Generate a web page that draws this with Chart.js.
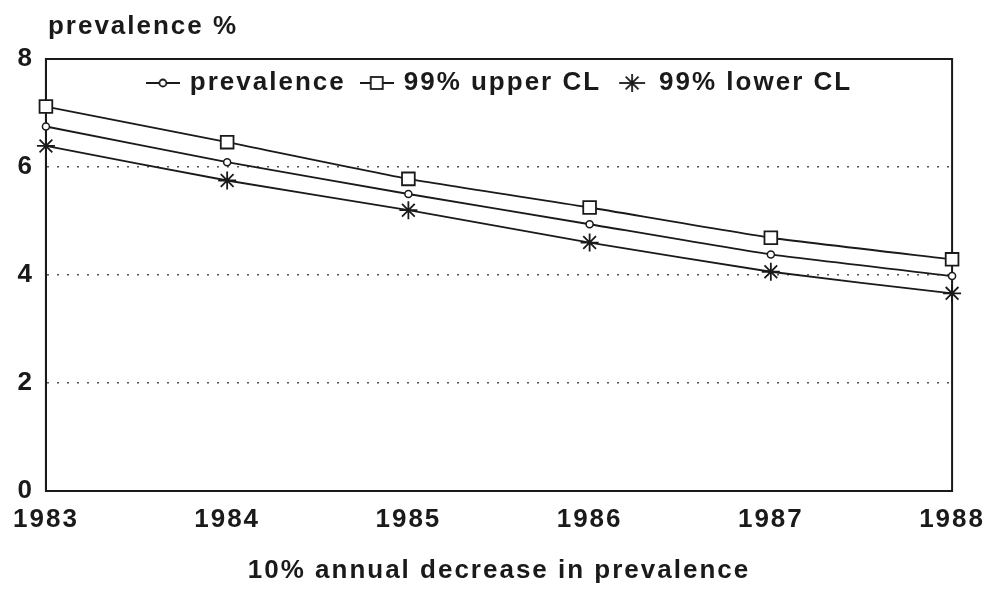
<!DOCTYPE html>
<html>
<head>
<meta charset="utf-8">
<script src="https://cdn.jsdelivr.net/npm/chart.js@4.4.1/dist/chart.umd.min.js"></script>
<style>
    html, body { margin: 0; padding: 0; background: #fff; }
    #wrap { width: 998px; height: 589px; }
</style>
</head>
<body>
<div id="wrap"><canvas id="prevChart" width="998" height="589"></canvas></div>
<script>
// values
const years = ['1983', '1984', '1985', '1986', '1987', '1988'];
const prevalence = [6.75, 6.09, 5.50, 4.94, 4.38, 3.98];
const upperCL = [7.12, 6.46, 5.78, 5.25, 4.69, 4.29];
const lowerCL = [6.39, 5.75, 5.20, 4.60, 4.06, 3.66];
const yTicks = [0, 2, 4, 6, 8];

const FONT = '"Liberation Sans", Arial, Helvetica, sans-serif';
const INK = '#1a1a1a';

// little legend icons: line with the marker in the middle
function makeIcon(kind) {
    const c = document.createElement('canvas');
    c.width = 34;
    c.height = 22;
    const g = c.getContext('2d');
    g.strokeStyle = INK;
    g.lineWidth = 1.8;
    g.beginPath();
    if (kind === 'star') {
        g.moveTo(4, 11); g.lineTo(30, 11);
    } else {
        g.moveTo(0, 11); g.lineTo(34, 11);
    }
    g.stroke();
    g.fillStyle = '#fff';
    if (kind === 'circle') {
        g.beginPath();
        g.arc(17, 11, 3.5, 0, Math.PI * 2);
        g.fill(); g.stroke();
    } else if (kind === 'rect') {
        g.fillRect(11, 5, 12, 12);
        g.strokeRect(11, 5, 12, 12);
    } else {
        g.beginPath();
        g.moveTo(17, 2); g.lineTo(17, 20);
        g.moveTo(10.6, 4.6); g.lineTo(23.4, 17.4);
        g.moveTo(23.4, 4.6); g.lineTo(10.6, 17.4);
        g.stroke();
    }
    return c;
}
const legendIcons = [makeIcon('circle'), makeIcon('rect'), makeIcon('star')];

const spacing = {
    id: 'spacing',
    beforeLayout(chart) { chart.ctx.letterSpacing = '2px'; },
    beforeDraw(chart) { chart.ctx.letterSpacing = '2px'; }
};

// frame round the plot, the y title on top and the legend inside the frame
const frameAndTitle = {
    id: 'frameAndTitle',
    beforeDatasetsDraw(chart) {
        const { ctx, chartArea: a } = chart;
        ctx.save();
        ctx.strokeStyle = INK;
        ctx.lineWidth = 2;
        ctx.strokeRect(a.left, a.top, a.right - a.left, a.bottom - a.top);
        ctx.restore();
    },
    afterDraw(chart) {
        const { ctx, chartArea: a } = chart;
        ctx.save();
        ctx.letterSpacing = '2px';
        ctx.font = 'bold 26px ' + FONT;
        ctx.fillStyle = INK;
        ctx.textAlign = 'left';
        ctx.textBaseline = 'alphabetic';
        ctx.fillText('prevalence %', a.left + 2, 34);

        const labels = chart.data.datasets.map(ds => ds.label);
        const iconGap = 10, itemGap = 14;
        const widths = labels.map(t => ctx.measureText(t).width);
        const total = widths.reduce((s, w) => s + w + 34 + iconGap, 0) + itemGap * (labels.length - 1);
        let x = (a.left + a.right) / 2 - total / 2;
        const y = a.top + 24;
        ctx.textBaseline = 'middle';
        labels.forEach((t, i) => {
            ctx.drawImage(legendIcons[i], x, y - 11);
            x += 34 + iconGap;
            ctx.fillText(t, x, y);
            x += widths[i] + itemGap;
        });
        ctx.restore();
    }
};

const lineStyle = {
    borderColor: INK,
    borderWidth: 1.8,
    pointBorderColor: INK,
    pointBackgroundColor: '#fff',
    pointBorderWidth: 1.8,
    tension: 0.15,
    clip: false
};

new Chart(document.getElementById('prevChart'), {
    type: 'line',
    data: {
        labels: years,
        datasets: [
            { ...lineStyle, label: 'prevalence', data: prevalence, pointStyle: 'circle', pointRadius: 3.5, pointBorderWidth: 1.5 },
            { ...lineStyle, label: '99% upper CL', data: upperCL, pointStyle: 'rect', pointRadius: 9 },
            { ...lineStyle, label: '99% lower CL', data: lowerCL, pointStyle: 'star', pointRadius: 9 }
        ]
    },
    options: {
        responsive: false,
        animation: false,
        layout: { padding: { top: 59, right: 37, left: 0, bottom: 0 } },
        plugins: {
            tooltip: { enabled: false },
            legend: { display: false }
        },
        scales: {
            x: {
                grid: { display: false, drawTicks: false },
                border: { display: true, color: INK, width: 2 },
                ticks: {
                    color: INK,
                    padding: 13,
                    maxRotation: 0,
                    font: { family: FONT, size: 26, weight: 'bold' }
                },
                title: {
                    display: true,
                    text: '10% annual decrease in prevalence',
                    color: INK,
                    padding: { top: 0, bottom: 3 },
                    font: { family: FONT, size: 26, weight: 'bold', lineHeight: 1.2 }
                },
                afterFit(scale) { scale.height = 98; }
            },
            y: {
                min: 0,
                max: 8,
                afterBuildTicks(scale) { scale.ticks = yTicks.map(v => ({ value: v })); },
                grid: {
                    drawTicks: false,
                    color: (c) => (c.tick && (c.tick.value === 0 || c.tick.value === 8)) ? 'rgba(0,0,0,0)' : '#555',
                    lineWidth: 1.5
                },
                border: { display: true, color: INK, width: 2, dash: [2, 8] },
                ticks: {
                    color: INK,
                    padding: 12,
                    font: { family: FONT, size: 26, weight: 'bold' }
                },
                afterFit(scale) { scale.width = 45; }
            }
        }
    },
    plugins: [spacing, frameAndTitle]
});
</script>
</body>
</html>
